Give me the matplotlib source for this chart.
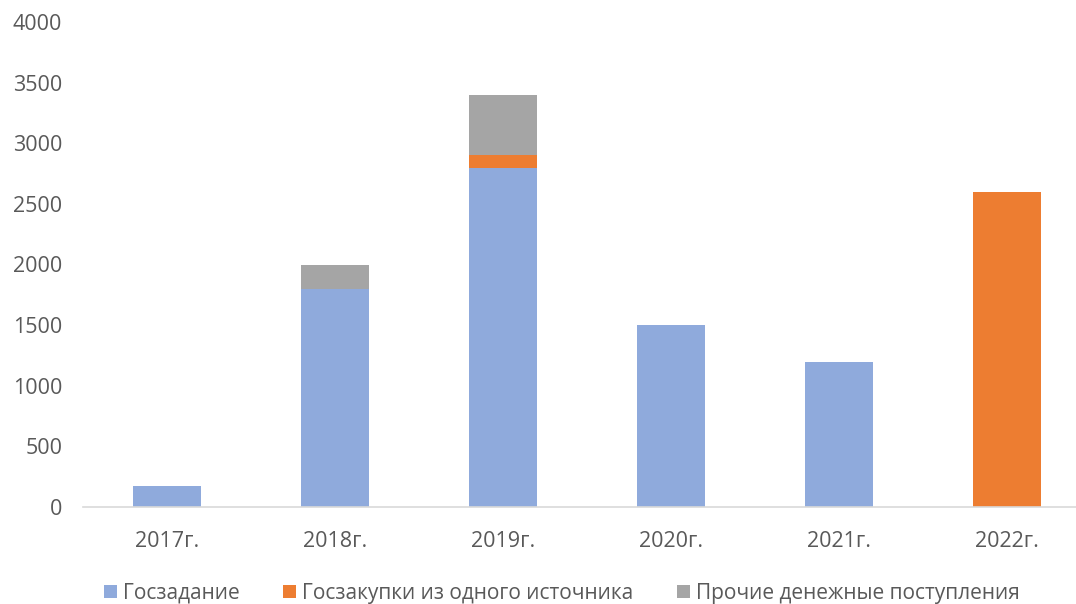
import matplotlib
matplotlib.use("Agg")
import matplotlib.pyplot as plt
import numpy as np

plt.rcParams['font.family'] = ['Open Sans', 'DejaVu Sans']

years = ['2017г.', '2018г.', '2019г.', '2020г.', '2021г.', '2022г.']
goszadanie = [170, 1800, 2800, 1500, 1200, 0]
goszakupki = [0, 0, 100, 0, 0, 2600]
prochie = [0, 200, 500, 0, 0, 0]
labels = ['Госзадание', 'Госзакупки из одного источника', 'Прочие денежные поступления']
colors = ['#8faadc', '#ed7d31', '#a5a5a5']

fig = plt.figure(figsize=(10.76, 6.04), dpi=100)
ax = fig.add_axes([83 / 1076, 97 / 604, 1008 / 1076, 485 / 604])

x = np.arange(len(years))
w = 0.4
b1 = ax.bar(x, goszadanie, w, color=colors[0], label=labels[0])
b2 = ax.bar(x, goszakupki, w, bottom=goszadanie, color=colors[1], label=labels[1])
bottom2 = np.array(goszadanie) + np.array(goszakupki)
b3 = ax.bar(x, prochie, w, bottom=bottom2, color=colors[2], label=labels[2])

ax.set_xlim(-0.5, len(years) - 0.5)
ax.set_ylim(0, 4000)
ax.set_yticks(range(0, 4001, 500))
ax.set_xticks(x)
ax.set_xticklabels(years)
for s in ['top', 'right', 'left']:
    ax.spines[s].set_visible(False)
ax.spines['bottom'].set_color('#d9d9d9')
ax.spines['bottom'].set_linewidth(1.2)
ax.tick_params(axis='both', length=0, labelsize=15.5, colors='#595959')
ax.tick_params(axis='x', pad=17)
ax.tick_params(axis='y', pad=15)

fig.legend(handles=[b1, b2, b3], labels=labels, loc='center',
           bbox_to_anchor=(562 / 1076, 11 / 604), ncol=3, frameon=False,
           fontsize=15, handlelength=0.6, handleheight=0.6, handletextpad=0.3,
           columnspacing=2.1, labelcolor='#595959', borderpad=0.1)

fig.savefig('out.png', dpi=100)
